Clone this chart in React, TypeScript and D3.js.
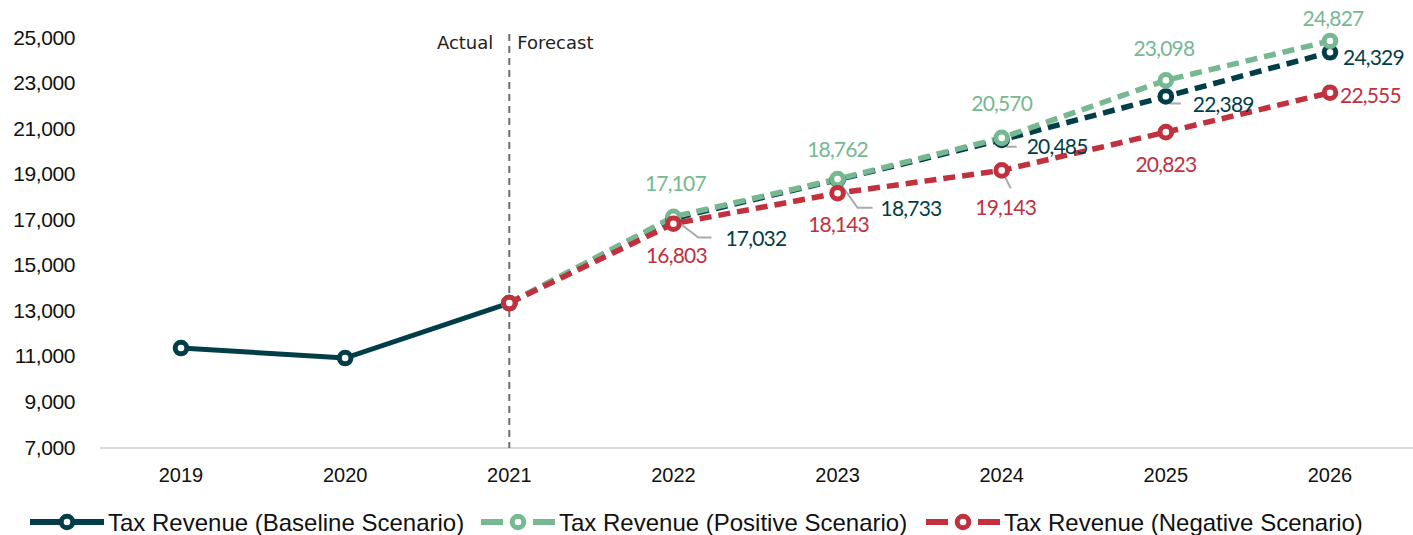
import { useEffect } from "react";
import * as d3 from "d3";

const years = ["2019", "2020", "2021", "2022", "2023", "2024", "2025", "2026"];
const actualYears = ["2019", "2020", "2021"];
const actualValues = [11346, 10907, 13321];
const forecastYears = ["2022", "2023", "2024", "2025", "2026"];
const baselineValues = [17032, 18733, 20485, 22389, 24329];
const positiveValues = [17107, 18762, 20570, 23098, 24827];
const negativeValues = [16803, 18143, 19143, 20823, 22555];
const yTicks = [7000, 9000, 11000, 13000, 15000, 17000, 19000, 21000, 23000, 25000];
const legendLabels = [
  "Tax Revenue (Baseline Scenario)",
  "Tax Revenue (Positive Scenario)",
  "Tax Revenue (Negative Scenario)",
];

const COLORS = { baseline: "#023e48", positive: "#76b891", negative: "#c1313d" };

// label placement relative to each forecast marker
const baselineLabelPos = [
  { dx: 52, dy: 19, anchor: "start", leader: [[25, 19], [38, 19]] },
  { dx: 43, dy: 28, anchor: "start", leader: [[20, 28], [35, 28]] },
  { dx: 25, dy: 6, anchor: "start", leader: [[5, 7], [15, 7]] },
  { dx: 27, dy: 7, anchor: "start", leader: [[5, 7], [15, 7]] },
  { dx: 13, dy: 4, anchor: "start", leader: null },
];
const positiveLabelPos = [
  { dx: 2, dy: -34, anchor: "middle", leader: null },
  { dx: 0, dy: -31, anchor: "middle", leader: null },
  { dx: 0, dy: -35, anchor: "middle", leader: null },
  { dx: -2, dy: -33, anchor: "middle", leader: null },
  { dx: 3, dy: -23, anchor: "middle", leader: null },
];
const negativeLabelPos = [
  { dx: 3, dy: 31, anchor: "middle", leader: null },
  { dx: 1, dy: 30, anchor: "middle", leader: null },
  { dx: 4, dy: 36, anchor: "middle", leader: [[9, 18]] },
  { dx: 0, dy: 31, anchor: "middle", leader: null },
  { dx: 10, dy: 2, anchor: "start", leader: null },
];

const App = () => {
  useEffect(() => {
    document.body.style.margin = "0";
    d3.select("#chart svg").remove();

    const width = 1413;
    const height = 535;

    const svg = d3
      .select("#chart")
      .append("svg")
      .attr("width", width)
      .attr("height", height)
      .style("display", "block");

    const x = d3.scalePoint().domain(years).range([181, 1330]);
    const y = d3.scaleLinear().domain([7000, 25000]).range([447, 37]);
    const fmt = d3.format(",");

    // y tick labels
    svg
      .selectAll(".ytick")
      .data(yTicks)
      .enter()
      .append("text")
      .attr("x", 75)
      .attr("y", (d) => y(d))
      .attr("dominant-baseline", "central")
      .attr("text-anchor", "end")
      .style("font-family", "Liberation Sans, Arial, sans-serif")
      .style("font-size", "21px")
      .style("letter-spacing", "-0.4px")
      .style("fill", "#111")
      .text((d) => fmt(d));

    // x axis line and labels
    svg
      .append("line")
      .attr("x1", 100)
      .attr("x2", width)
      .attr("y1", 448)
      .attr("y2", 448)
      .attr("stroke", "#d9d9d9")
      .attr("stroke-width", 2);

    svg
      .selectAll(".xtick")
      .data(years)
      .enter()
      .append("text")
      .attr("x", (d) => x(d))
      .attr("y", 475)
      .attr("dominant-baseline", "central")
      .attr("text-anchor", "middle")
      .style("font-family", "Liberation Sans, Arial, sans-serif")
      .style("font-size", "20px")
      .style("fill", "#111")
      .text((d) => d);

    // actual / forecast divider
    const divX = x("2021");
    svg
      .append("line")
      .attr("x1", divX)
      .attr("x2", divX)
      .attr("y1", 34)
      .attr("y2", 448)
      .attr("stroke", "#6e6e6e")
      .attr("stroke-width", 2)
      .attr("stroke-dasharray", "7,5");
    svg
      .append("text")
      .attr("x", divX - 16)
      .attr("y", 42)
      .attr("dominant-baseline", "central")
      .attr("text-anchor", "end")
      .style("font-family", "DejaVu Sans, sans-serif")
      .style("font-size", "18px")
      .style("fill", "#222")
      .text("Actual");
    svg
      .append("text")
      .attr("x", divX + 8)
      .attr("y", 42)
      .attr("dominant-baseline", "central")
      .attr("text-anchor", "start")
      .style("font-family", "DejaVu Sans, sans-serif")
      .style("font-size", "18px")
      .style("fill", "#222")
      .text("Forecast");

    const line = d3
      .line<[string, number]>()
      .x((d) => x(d[0]))
      .y((d) => y(d[1]));

    const actualPts: [string, number][] = actualYears.map((yr, i) => [yr, actualValues[i]]);
    const lastActual = actualPts[actualPts.length - 1];

    const series = [
      { key: "baseline", values: baselineValues, pos: baselineLabelPos },
      { key: "positive", values: positiveValues, pos: positiveLabelPos },
      { key: "negative", values: negativeValues, pos: negativeLabelPos },
    ];

    // actual solid line
    svg
      .append("path")
      .attr("d", line(actualPts))
      .attr("fill", "none")
      .attr("stroke", COLORS.baseline)
      .attr("stroke-width", 5);

    // forecast dashed lines
    series.forEach((s) => {
      const pts: [string, number][] = [lastActual, ...forecastYears.map((yr, i) => [yr, s.values[i]] as [string, number])];
      svg
        .append("path")
        .attr("d", line(pts))
        .attr("fill", "none")
        .attr("stroke", COLORS[s.key])
        .attr("stroke-width", 5.5)
        .attr("stroke-dasharray", "12,7");
    });

    // leader lines
    series.forEach((s) => {
      s.pos.forEach((p, i) => {
        if (!p.leader) return;
        const cx = x(forecastYears[i]);
        const cy = y(s.values[i]);
        const pts = [[cx, cy], ...p.leader.map((q) => [cx + q[0], cy + q[1]])];
        svg
          .append("polyline")
          .attr("points", pts.map((q) => q.join(",")).join(" "))
          .attr("fill", "none")
          .attr("stroke", "#a9a9a9")
          .attr("stroke-width", 2);
      });
    });

    const marker = (g, cx, cy, color) =>
      g
        .append("circle")
        .attr("cx", cx)
        .attr("cy", cy)
        .attr("r", 5.8)
        .attr("fill", "#fff")
        .attr("stroke", color)
        .attr("stroke-width", 5);

    // actual markers
    actualPts.forEach((d) => marker(svg, x(d[0]), y(d[1]), COLORS.baseline));

    // forecast markers
    series.forEach((s) => {
      marker(svg, x(lastActual[0]), y(lastActual[1]), COLORS[s.key]);
      s.values.forEach((v, i) => marker(svg, x(forecastYears[i]), y(v), COLORS[s.key]));
    });

    // data labels
    series.forEach((s) => {
      s.values.forEach((v, i) => {
        const p = s.pos[i];
        svg
          .append("text")
          .attr("x", x(forecastYears[i]) + p.dx)
          .attr("y", y(v) + p.dy)
          .attr("dominant-baseline", "central")
          .attr("text-anchor", p.anchor)
          .style("font-family", "Lato, sans-serif")
          .style("font-size", "21px")
          .style("letter-spacing", "-0.8px")
          .style("fill", COLORS[s.key])
          .text(fmt(v));
      });
    });

    // legend
    const legendY = 522;
    const legendStarts = [30, 481, 926];
    const keys = ["baseline", "positive", "negative"];
    keys.forEach((k, i) => {
      const sx = legendStarts[i];
      const g = svg.append("g");
      if (k === "baseline") {
        g.append("line")
          .attr("x1", sx)
          .attr("x2", sx + 74)
          .attr("y1", legendY)
          .attr("y2", legendY)
          .attr("stroke", COLORS[k])
          .attr("stroke-width", 6);
      } else {
        [[sx, sx + 22], [sx + 52, sx + 74]].forEach((seg) =>
          g
            .append("line")
            .attr("x1", seg[0])
            .attr("x2", seg[1])
            .attr("y1", legendY)
            .attr("y2", legendY)
            .attr("stroke", COLORS[k])
            .attr("stroke-width", 6)
        );
      }
      marker(g, sx + 37, legendY, COLORS[k]);
      g.append("text")
        .attr("x", sx + 78)
        .attr("y", legendY)
        .attr("dominant-baseline", "central")
        .style("font-family", "Liberation Sans, Arial, sans-serif")
        .style("font-size", "24px")
        .style("fill", "#111")
        .text(legendLabels[i]);
    });
  }, []);

  return <div id="chart"></div>;
};

export default App;
